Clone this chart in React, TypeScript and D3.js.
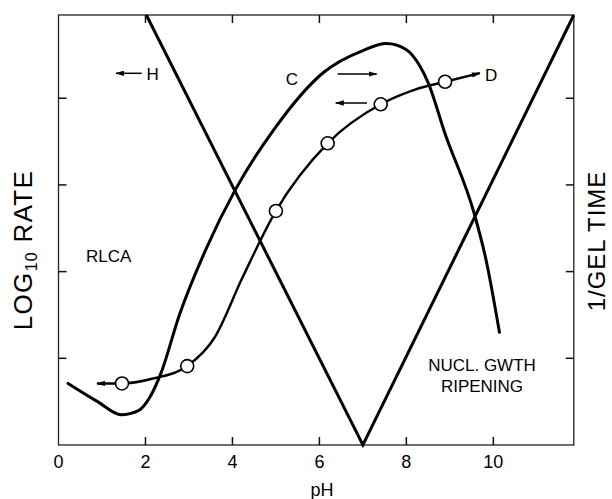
import React from 'react'
import * as d3 from 'd3'

// H line (1/gel time), pH vs value
const hPH = [2.02, 7.0, 11.85]
const hVal = [4.96, 0, 4.96]

// C curve
const cPH = [0.22, 0.9, 1.44, 1.85, 2.1, 2.35, 2.78, 3.41, 4.04, 4.94, 6.1, 7.0, 7.54, 8.0, 8.3, 8.5, 8.89, 9.56, 9.83, 10.14]
const cVal = [0.71, 0.5, 0.35, 0.4, 0.55, 0.82, 1.5, 2.28, 2.92, 3.63, 4.3, 4.55, 4.63, 4.56, 4.38, 4.18, 3.59, 2.67, 2.14, 1.3]

// D curve (with measured points)
const dPH = [0.885, 1.46, 2.2, 2.96, 3.59, 4.22, 5.0, 6.19, 7.41, 8.2, 8.89, 9.69]
const dVal = [0.71, 0.71, 0.77, 0.91, 1.24, 1.92, 2.7, 3.48, 3.93, 4.1, 4.19, 4.29]
const circlePH = [1.46, 2.96, 5.0, 6.19, 7.41, 8.89]
const circleVal = [0.71, 0.91, 2.7, 3.48, 3.93, 4.19]

const xTicks = [0, 2, 4, 6, 8, 10]
const yTicks = [1, 2, 3, 4]

export default function App() {
    const W = 612, H = 499
    const left = 58.5, right = 573.8, top = 15, bottom = 445

    const x = d3.scaleLinear().domain([0, 11.85]).range([left, right])
    const y = d3.scaleLinear().domain([0, 4.96]).range([bottom, top])

    const font = 'Liberation Sans, Arial, Helvetica, sans-serif'

    const straight = d3.line<number>().x(i => x(hPH[i])).y(i => y(hVal[i]))
    const smooth = (px: number[], py: number[]) =>
        d3.line<number>().x(i => x(px[i])).y(i => y(py[i])).curve(d3.curveMonotoneX)(px.map((_, i) => i)) || ''

    const tickLen = 8

    return (
        <svg width={W} height={H} style={{position: 'absolute', left: 0, top: 0, background: '#fff'}}
             fontFamily={font}>
            <defs>
                <marker id="ah" viewBox="0 0 10 6" refX="9" refY="3" markerWidth="9" markerHeight="5.5"
                        markerUnits="userSpaceOnUse" orient="auto-start-reverse">
                    <path d="M0,0 L10,3 L0,6 Z" fill="#000"/>
                </marker>
            </defs>

            {/* frame */}
            <rect x={left} y={top} width={right - left} height={bottom - top} fill="none" stroke="#222" strokeWidth={1.3}/>

            {/* ticks, pointing inward on all four sides */}
            {xTicks.filter(t => t > 0).map(t => (
                <g key={'xt' + t}>
                    <line x1={x(t)} x2={x(t)} y1={bottom} y2={bottom - tickLen} stroke="#111" strokeWidth={1.5}/>
                    <line x1={x(t)} x2={x(t)} y1={top} y2={top + tickLen} stroke="#111" strokeWidth={1.5}/>
                </g>
            ))}
            {yTicks.map(t => (
                <g key={'yt' + t}>
                    <line x1={left} x2={left + tickLen} y1={y(t)} y2={y(t)} stroke="#111" strokeWidth={1.5}/>
                    <line x1={right} x2={right - tickLen} y1={y(t)} y2={y(t)} stroke="#111" strokeWidth={1.5}/>
                </g>
            ))}

            {/* x tick labels */}
            {xTicks.map(t => (
                <text key={'xl' + t} x={x(t)} y={468} textAnchor="middle" fontSize={18}>{t}</text>
            ))}
            <text x={322} y={496} textAnchor="middle" fontSize={18}>pH</text>

            {/* axis titles */}
            <text transform={`translate(32,250) rotate(-90)`} textAnchor="middle" fontSize={26} letterSpacing={1.3}>
                LOG<tspan fontSize={16} dy={5}>10</tspan><tspan dy={-5}> RATE</tspan>
            </text>
            <text transform={`translate(605,241) rotate(-90)`} textAnchor="middle" fontSize={24} letterSpacing={1}>1/GEL TIME</text>

            {/* curves */}
            <path d={straight(hPH.map((_, i) => i)) || ''} fill="none" stroke="#000" strokeWidth={3} strokeLinejoin="miter"/>
            <path d={smooth(cPH, cVal)} fill="none" stroke="#000" strokeWidth={3} strokeLinecap="round"/>
            <path d={smooth(dPH, dVal)} fill="none" stroke="#000" strokeWidth={2.4}
                  markerStart="url(#ah)" markerEnd="url(#ah)"/>
            {circlePH.map((p, i) => (
                <circle key={'c' + i} cx={x(p)} cy={y(circleVal[i])} r={6.5} fill="#fff" stroke="#000" strokeWidth={1.6}/>
            ))}

            {/* annotations */}
            <line x1={141.7} y1={73.3} x2={116} y2={73.3} stroke="#000" strokeWidth={1.5} markerEnd="url(#ah)"/>
            <text x={146.5} y={79.5} fontSize={17}>H</text>
            <text x={292} y={85} textAnchor="middle" fontSize={17}>C</text>
            <line x1={337.6} y1={74} x2={376.7} y2={74} stroke="#000" strokeWidth={1.5} markerEnd="url(#ah)"/>
            <text x={485} y={81} fontSize={17}>D</text>
            <line x1={367} y1={103} x2={335.7} y2={103} stroke="#000" strokeWidth={1.5} markerEnd="url(#ah)"/>
            <text x={86} y={262} fontSize={17}>RLCA</text>
            <text x={482} y={371} textAnchor="middle" fontSize={17}>NUCL. GWTH</text>
            <text x={482} y={392} textAnchor="middle" fontSize={17}>RIPENING</text>
        </svg>
    )
}
